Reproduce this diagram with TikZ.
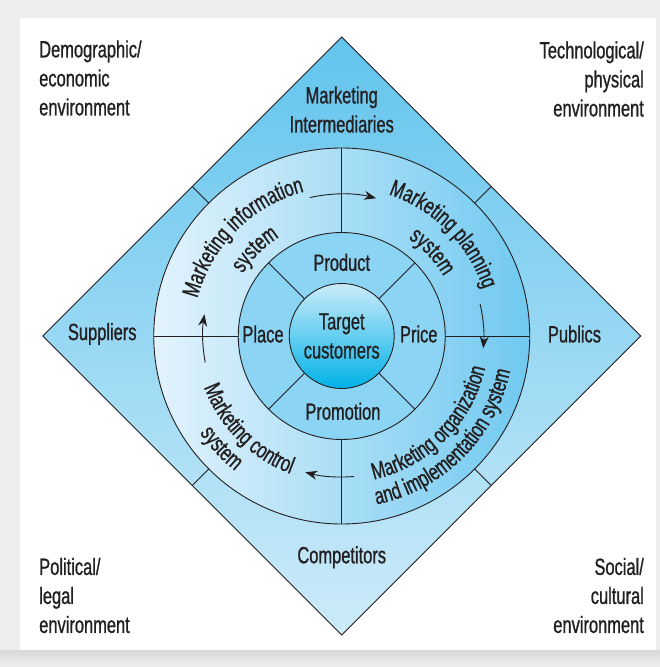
\documentclass[tikz,border=0pt]{standalone}
\usepackage{fontspec}
\setmainfont{Liberation Sans}[FakeStretch=0.70,FakeBold=0.9]
\usetikzlibrary{arrows.meta,decorations.text}
\definecolor{inkdark}{HTML}{231F20}
\definecolor{diamondtop}{HTML}{62C4ED}
\definecolor{diamondbot}{HTML}{CDEBF9}
\definecolor{ringleft}{HTML}{E3F3FC}
\definecolor{ringright}{HTML}{70C9F0}
\definecolor{ringmid}{HTML}{8BD4F4}
\definecolor{coretop}{HTML}{CBEBF9}
\definecolor{corebot}{HTML}{00B1E7}
\newcommand\labfont{\fontsize{23.5}{29}\selectfont}

\begin{document}
\begin{tikzpicture}[x=1pt,y=1pt,
  lbl/.style={font=\labfont,text=inkdark,inner sep=0pt},
  rim/.style={draw=inkdark,line width=0.9pt},
  flow/.style={draw=inkdark,line width=0.9pt,-{Stealth[length=12pt,width=9pt]}},
  ringtext/.style={decorate,decoration={text along path,text align=center,
    text={|\labfont\color{inkdark}|#1}}}]
\useasboundingbox (-341.75,-331) rectangle (318.25,336);
% frame
\fill[gray!14] (-341.75,-331) rectangle (318.25,336);
\shade[top color=gray!30,bottom color=gray!12] (-341.75,-331) rectangle (318.25,-314);
\fill[white] (-321.75,-314) rectangle (314.25,317.7);

% environment diamond and rings
\draw[rim,top color=diamondtop,bottom color=diamondbot] (0,299) -- (299,0) -- (0,-299) -- (-299,0) -- cycle;
\draw[rim,left color=ringleft,right color=ringright] (0,0) circle[radius=188];
\draw[rim,fill=ringmid] (0,0) circle[radius=103.5];
\node[lbl,circle,draw=inkdark,line width=0.9pt,minimum size=105pt,
  top color=coretop,bottom color=corebot,align=center] (target) at (0,0) {Target\\customers};

\foreach \a in {0,90,180,270}
  \draw[rim] (\a:103.5) -- (\a:188);
\foreach \a in {45,135,225,315}
  \draw[rim] (target.\a) -- (\a:103.5);
\foreach \a in {45,135,225,315}
  \draw[rim] (\a:188) -- (\a:211.4);

% corner texts
\node[lbl,align=left,anchor=west] (demo) at (-302.7,258) {Demographic/\\economic\\environment};
\node[lbl,align=right,anchor=east] (tech) at (302.3,257) {Technological/\\physical\\environment};
\node[lbl,align=left,anchor=west] (poli) at (-302.7,-259.5) {Political/\\legal\\environment};
\node[lbl,align=right,anchor=east] (soci) at (302.3,-259.5) {Social/\\cultural\\environment};

% actors
\node[lbl,align=center] (inter) at (0,226.5) {Marketing\\Intermediaries};
\node[lbl] (suppliers) at (-239.5,2) {Suppliers};
\node[lbl] (publics) at (232.75,2) {Publics};
\node[lbl] (competitors) at (0,-221.2) {Competitors};

% marketing mix
\node[lbl] (product) at (0,73.6) {Product};
\node[lbl] (place) at (-78.7,2) {Place};
\node[lbl] (price) at (77,2) {Price};
\node[lbl] (promotion) at (1.2,-75.3) {Promotion};

% systems
\path[ringtext={Marketing information}] (180:149) arc[start angle=180,end angle=90,radius=149];
\path[ringtext={system}] (180:117) arc[start angle=180,end angle=90,radius=117];
\path[ringtext={Marketing planning}] (90:149) arc[start angle=90,end angle=0,radius=149];
\path[ringtext={system}] (86:118) arc[start angle=86,end angle=0,radius=118];
\path[ringtext={Marketing control}] (180:147) arc[start angle=180,end angle=270,radius=147];
\path[ringtext={system}] (176:172) arc[start angle=176,end angle=270,radius=172];
\path[ringtext={Marketing organization}] (270:147) arc[start angle=270,end angle=360,radius=147];
\path[ringtext={and implementation system}] (270:172) arc[start angle=270,end angle=360,radius=172];

\draw[flow] (103:142) arc[start angle=103,end angle=76,radius=142];
\draw[flow] (13:142) arc[start angle=13,end angle=-5,radius=142];
\draw[flow] (-85:141) arc[start angle=-85,end angle=-105,radius=141];
\draw[flow] (191:139) arc[start angle=191,end angle=171,radius=139];
\end{tikzpicture}
\end{document}
